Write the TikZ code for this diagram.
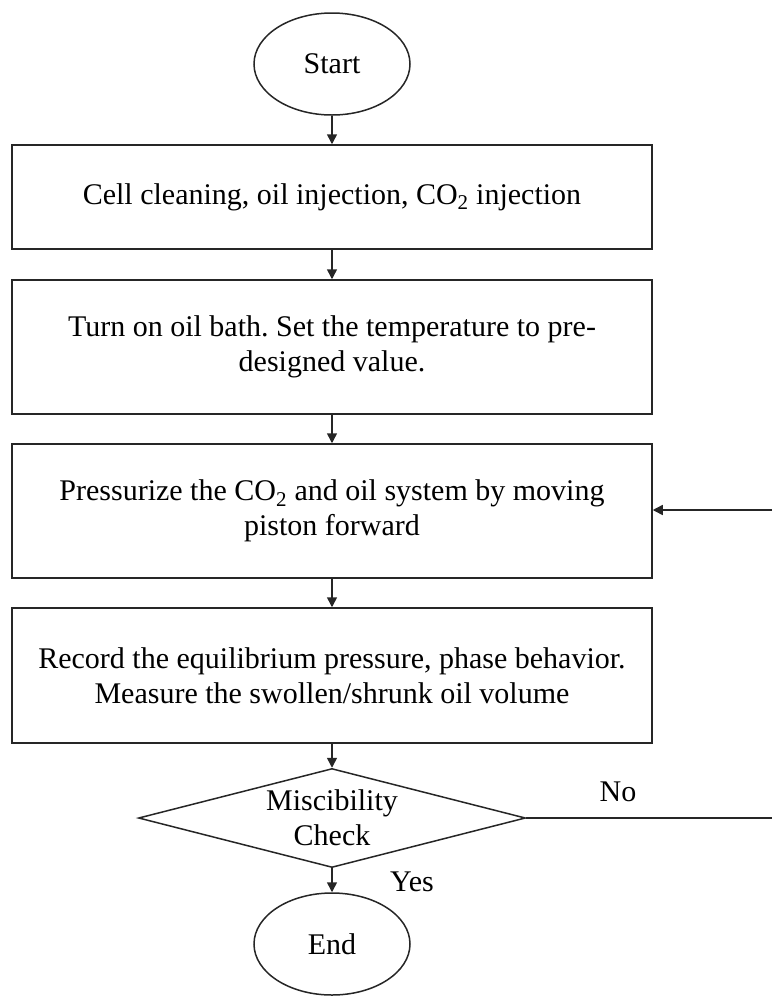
\documentclass[tikz,border=0pt]{standalone}
\usepackage{fontspec}
\setmainfont{Liberation Serif}
\frenchspacing
\usetikzlibrary{shapes.geometric,arrows.meta}
\begin{document}
\begin{tikzpicture}[x=1pt,y=-1pt,
  every node/.style={font=\fontsize{30}{35}\selectfont},
  line/.style={line width=1.5pt, draw=black!85},
  flow/.style={line, -{Triangle[length=10pt,width=10pt]}},
  terminal/.style={ellipse, line, minimum width=156pt, minimum height=102pt, inner sep=0pt},
  stepbox/.style={rectangle, line, minimum width=640pt, align=center, inner sep=0pt},
  decision/.style={diamond, line, minimum width=387pt, minimum height=99pt, aspect=3.9, inner sep=0pt, align=center},
  tag/.style={inner sep=0pt}]
\useasboundingbox (0,0) rectangle (772,997);

\node[terminal] (start) at (332,64) {Start};
\node[stepbox, minimum height=104pt] (clean) at (332,197)
  {Cell cleaning, oil injection, CO\textsubscript{2} injection};
\node[stepbox, minimum height=134pt] (bath) at (332,347)
  {Turn on oil bath. Set the temperature to pre-\\designed value.};
\node[stepbox, minimum height=134pt] (press) at (332,511)
  {Pressurize the CO\textsubscript{2} and oil system by moving\\piston forward};
\node[stepbox, minimum height=135pt] (record) at (332,675.5)
  {Record the equilibrium pressure, phase behavior.\\Measure the swollen/shrunk oil volume};
\node[decision] (check) at (332,818) {Miscibility\\Check};
\node[terminal] (end) at (332,944) {End};

\node[tag] (no) at (618,792) {No};
\node[tag] (yes) at (412,882) {Yes};

\coordinate (loopout) at (772,818);
\coordinate (loopin) at (772,510);

\draw[flow] (start) -- (clean);
\draw[flow] (clean) -- (bath);
\draw[flow] (bath) -- (press);
\draw[flow] (press) -- (record);
\draw[flow] (record) -- (check);
\draw[flow] (check) -- (end);
\draw[line] (check.east) -- (loopout);
\draw[flow] (loopin) -- (press.east |- loopin);
\end{tikzpicture}
\end{document}
